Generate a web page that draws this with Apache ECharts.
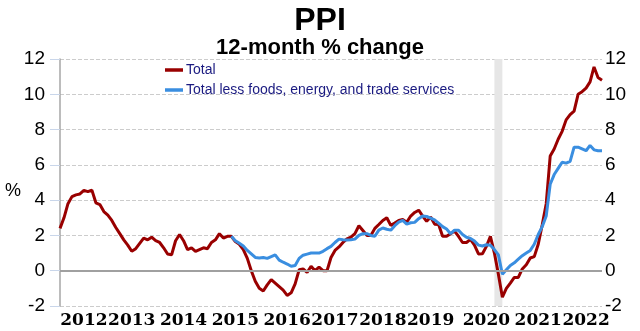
<!DOCTYPE html>
<html><head><meta charset="utf-8">
<script src="https://cdn.jsdelivr.net/npm/echarts@6/dist/echarts.min.js"></script>
<style>html,body{margin:0;padding:0;background:#fff}#c{width:640px;height:331px}</style>
</head><body><div id="c"></div>
<script>
// ---- data (monthly, Jan 2011 .. May 2022) ----
const startYear = 2011;
const totalPct = [
  2.4, 3.0, 3.8, 4.2, 4.3, 4.35, 4.55, 4.48, 4.57, 3.85, 3.75, 3.35,
  3.15, 2.85, 2.45, 2.1, 1.75, 1.45, 1.1, 1.25, 1.55, 1.85, 1.75, 1.9,
  1.7, 1.6, 1.3, 0.95, 0.9, 1.7, 2.05, 1.7, 1.2, 1.3, 1.1, 1.2,
  1.3, 1.25, 1.6, 1.75, 2.1, 1.85, 1.95, 1.95, 1.65, 1.5, 1.2, 0.7,
  0.0, -0.6, -1.0, -1.15, -0.8, -0.5, -0.7, -0.9, -1.1, -1.4, -1.25, -0.75,
  0.05, 0.1, -0.1, 0.25, 0.0, 0.2, 0.0, 0.0, 0.75, 1.15, 1.35, 1.6,
  1.8, 1.9, 2.1, 2.55, 2.28, 2.0, 2.0, 2.4, 2.62, 2.85, 3.0, 2.57,
  2.7, 2.85, 2.9, 2.75, 3.1, 3.3, 3.43, 3.1, 2.8, 3.05, 2.64, 2.62,
  1.95, 1.95, 2.1, 2.25, 1.94, 1.6, 1.6, 1.78, 1.45, 0.95, 0.96, 1.38,
  1.95, 1.0, -0.2, -1.5, -1.0, -0.7, -0.38, -0.38, 0.1, 0.34, 0.72, 0.8,
  1.5, 2.6, 3.8, 6.5, 6.9, 7.45, 7.9, 8.55, 8.85, 9.05, 10.0, 10.15,
  10.35, 10.7, 11.55, 10.95, 10.8
];
const coreLessPct = [
  null, null, null, null, null, null, null, null, null, null, null, null,
  null, null, null, null, null, null, null, null, null, null, null, null,
  null, null, null, null, null, null, null, null, null, null, null, null,
  null, null, null, null, null, null, null, 1.95, 1.7, 1.55, 1.4, 1.15,
  0.95, 0.75, 0.72, 0.75, 0.7, 0.8, 0.9, 0.6, 0.48, 0.38, 0.25, 0.3,
  0.7, 0.88, 0.94, 1.0, 1.0, 1.0, 1.1, 1.25, 1.38, 1.6, 1.79, 1.75,
  1.74, 1.75, 1.79, 2.0, 2.1, 2.1, 2.0, 1.95, 2.3, 2.42, 2.35, 2.3,
  2.55, 2.75, 2.85, 2.64, 2.72, 2.74, 2.95, 3.1, 3.08, 2.98, 2.88, 2.7,
  2.5, 2.36, 2.1, 2.3, 2.3, 2.05, 1.9, 1.83, 1.68, 1.45, 1.4, 1.47,
  1.45, 1.2, 0.9, -0.2, 0.05, 0.3, 0.45, 0.65, 0.85, 1.0, 1.15, 1.5,
  2.05, 2.5, 3.1, 4.9, 5.45, 5.8, 6.15, 6.1, 6.2, 7.0, 7.0, 6.9,
  6.8, 7.1, 6.85, 6.8, 6.8
];
const seriesNames = ['Total', 'Total less foods, energy, and trade services'];
const tickLabels = ['2012','2013','2014','2015','2016','2017','2018','2019','2020','2021','2022'];
const recession = ['2020-02', '2020-04'];

// ---- categories ----
const months = totalPct.map((_, i) =>
  (startYear + Math.floor(i / 12)) + '-' + String(i % 12 + 1).padStart(2, '0'));

// ---- layout: category index where each year label sits ----
const labelAt = [6, 18, 31, 44, 57, 69, 81, 93, 107, 120, 132];

const FONT = 'Liberation Sans, Arial, sans-serif';
const RED = '#990000', BLUE = '#3a8ee0';
const chart = echarts.init(document.getElementById('c'), null, {renderer: 'canvas'});
chart.setOption({
  animation: false,
  backgroundColor: '#fff',
  title: [
    {text: 'PPI', left: 'center', top: 0,
     textStyle: {fontSize: 32, fontWeight: 'bold', color: '#000', fontFamily: FONT}},
    {text: '12-month % change', left: 'center', top: 32,
     textStyle: {fontSize: 22, fontWeight: 'bold', color: '#000', fontFamily: FONT}}
  ],
  legend: {
    data: [{name: seriesNames[0], icon: 'rect', itemStyle: {color: RED}},
           {name: seriesNames[1], icon: 'rect', itemStyle: {color: BLUE}}],
    orient: 'vertical', left: 160, top: 58,
    itemWidth: 18, itemHeight: 3.5, itemGap: 6,
    textStyle: {fontSize: 14, color: '#1a1a80', fontFamily: FONT, padding: [0, 0, 0, -2]}
  },
  graphic: [{type: 'text', left: 5, top: 182, style: {text: '%', fill: '#000', font: '18px Liberation Sans, Arial, sans-serif'}}],
  grid: {left: 60, right: 38, top: 59, bottom: 25},
  xAxis: {
    type: 'category', data: months, boundaryGap: false,
    axisLine: {show: false}, axisTick: {show: false},
    axisLabel: {
      interval: (idx) => labelAt.includes(idx),
      formatter: (v, idx) => tickLabels[labelAt.indexOf(idx)],
      fontSize: 17, fontWeight: 'bold', fontFamily: 'DejaVu Serif, serif', color: '#000', margin: 6
    }
  },
  yAxis: [
    {type: 'value', min: -2, max: 12, interval: 2, position: 'left',
     axisLine: {show: true, lineStyle: {color: '#a6a6a6', width: 1.5}},
     axisTick: {show: true, length: 10, lineStyle: {color: '#c9d6ea'}},
     axisLabel: {fontSize: 19, color: '#000', fontFamily: FONT, margin: 15},
     splitLine: {show: true, lineStyle: {type: 'dashed', color: '#cccccc'}}},
    {type: 'value', min: -2, max: 12, interval: 2, position: 'right',
     axisLine: {show: false}, axisTick: {show: false},
     axisLabel: {fontSize: 19, color: '#000', fontFamily: FONT, margin: 3},
     splitLine: {show: false}}
  ],
  series: [
    {name: seriesNames[0], type: 'line', data: totalPct, symbol: 'none',
     lineStyle: {color: RED, width: 3}, itemStyle: {color: RED},
     markArea: {silent: true, itemStyle: {color: '#e6e6e6'},
       data: [[{xAxis: recession[0]}, {xAxis: recession[1]}]]},
     markLine: {silent: true, symbol: 'none', label: {show: false},
       lineStyle: {color: '#a0a0a0', width: 2, type: 'solid'},
       data: [{yAxis: 0}]}},
    {name: seriesNames[1], type: 'line', data: coreLessPct, symbol: 'none',
     lineStyle: {color: BLUE, width: 3}, itemStyle: {color: BLUE}}
  ]
});
</script></body></html>
